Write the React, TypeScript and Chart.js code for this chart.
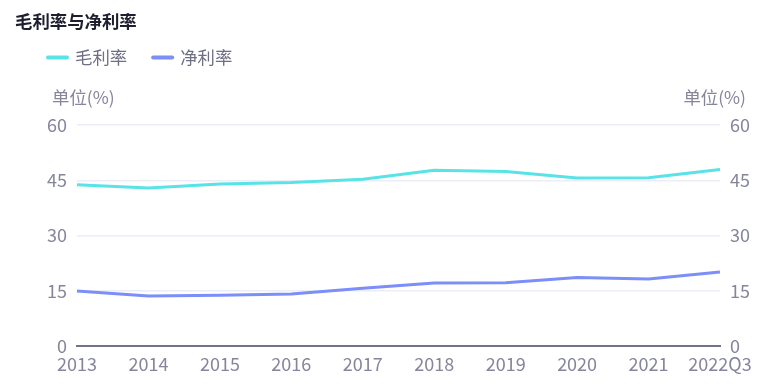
import React, { useEffect, useRef } from "react";
import { Chart, registerables } from "chart.js";

Chart.register(...registerables);

const categories = ["2013", "2014", "2015", "2016", "2017", "2018", "2019", "2020", "2021", "2022Q3"];
const grossMargin = [43.8, 42.9, 44.0, 44.4, 45.3, 47.7, 47.4, 45.6, 45.7, 47.9];
const netMargin = [14.9, 13.6, 13.8, 14.1, 15.7, 17.1, 17.2, 18.6, 18.2, 20.1];
const yTicks = [0, 15, 30, 45, 60];
const titleText = "毛利率与净利率";
const unitText = "单位(%)";
const seriesNames = ["毛利率", "净利率"];

const FONT = '"Noto Sans CJK SC", "Noto Sans", sans-serif';
const TICK_COLOR = "#85859b";

const decorPlugin = {
  id: "decor",
  afterDraw(chart: any) {
    const ctx = chart.ctx;
    const area = chart.chartArea;
    ctx.save();
    // title
    ctx.font = `bold 17.4px ${FONT}`;
    ctx.fillStyle = "#1e1e2e";
    ctx.textAlign = "left";
    ctx.textBaseline = "middle";
    ctx.fillText(titleText, 7, 13.5);
    // legend
    ctx.font = `17.4px ${FONT}`;
    let x = 39;
    const ly = 49;
    chart.data.datasets.forEach((ds: any) => {
      ctx.strokeStyle = ds.borderColor;
      ctx.lineWidth = 4;
      ctx.lineCap = "round";
      ctx.beginPath();
      ctx.moveTo(x + 1, ly + 0.5);
      ctx.lineTo(x + 20, ly + 0.5);
      ctx.stroke();
      ctx.fillStyle = "#6f6f84";
      ctx.fillText(ds.label, x + 28, ly);
      x += 28 + ctx.measureText(ds.label).width + 25;
    });
    // unit labels
    ctx.fillStyle = TICK_COLOR;
    ctx.font = `17.4px ${FONT}`;
    ctx.textAlign = "left";
    ctx.fillText(unitText, area.left - 25, 89.5);
    ctx.textAlign = "right";
    ctx.fillText(unitText, area.right + 26, 89.5);
    ctx.restore();
  },
};

export default function App() {
  const ref = useRef<HTMLCanvasElement | null>(null);
  useEffect(() => {
    if (!ref.current) return;
    const chart = new Chart(ref.current, {
      type: "line",
      data: {
        labels: categories,
        datasets: [
          {
            label: seriesNames[0],
            data: grossMargin,
            borderColor: "#58e3e6",
            backgroundColor: "#58e3e6",
            borderWidth: 3,
            pointRadius: 0,
            tension: 0,
            yAxisID: "y",
          },
          {
            label: seriesNames[1],
            data: netMargin,
            borderColor: "#7c8ef8",
            backgroundColor: "#7c8ef8",
            borderWidth: 3,
            pointRadius: 0,
            tension: 0,
            yAxisID: "y",
          },
        ],
      },
      options: {
        responsive: false,
        animation: false,
        layout: { padding: { top: 117, left: 0, right: 0, bottom: 0 } },
        plugins: {
          legend: { display: false },
          title: { display: false },
          tooltip: { enabled: false },
        },
        scales: {
          x: {
            offset: false,
            grid: { display: false, drawTicks: false },
            border: { display: true, color: "#72728a", width: 2 },
            ticks: {
              autoSkip: false,
              maxRotation: 0,
              padding: 7,
              color: TICK_COLOR,
              font: { family: FONT, size: 18 },
            },
            afterFit: (s: any) => {
              s.height = 35;
            },
          },
          y: {
            position: "left",
            min: 0,
            max: 60,
            afterBuildTicks: (s: any) => {
              s.ticks = yTicks.map((v) => ({ value: v }));
            },
            grid: {
              drawTicks: false,
              color: (c: any) => (c.tick && c.tick.value === 0 ? "rgba(0,0,0,0)" : "#eceef7"),
              lineWidth: 1.5,
            },
            border: { display: false },
            ticks: {
              padding: 10,
              color: TICK_COLOR,
              font: { family: FONT, size: 18 },
            },
            afterFit: (s: any) => {
              s.width = 69;
            },
          },
          y2: {
            position: "right",
            min: 0,
            max: 60,
            afterBuildTicks: (s: any) => {
              s.ticks = yTicks.map((v) => ({ value: v }));
            },
            grid: { display: false, drawTicks: false },
            border: { display: false },
            ticks: {
              padding: 10,
              color: TICK_COLOR,
              font: { family: FONT, size: 18 },
            },
            afterFit: (s: any) => {
              s.width = 45;
            },
          },
        },
      },
      plugins: [decorPlugin],
    });
    return () => chart.destroy();
  }, []);
  return (
    <canvas ref={ref} width={757} height={373} style={{ display: "block", width: 757, height: 373 }} />
  );
}
